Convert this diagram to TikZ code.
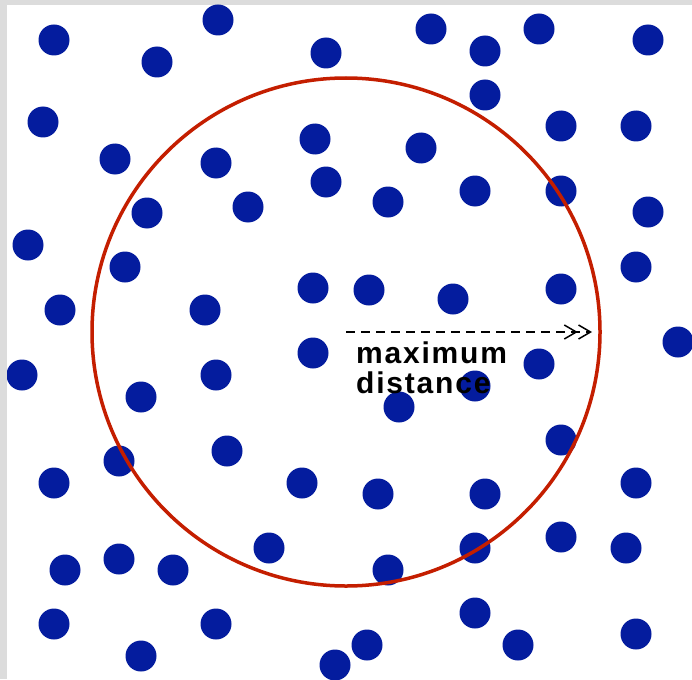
\documentclass[tikz,border=0pt]{standalone}
\usepackage{fontspec}
\newfontfamily\labfont[LetterSpace=6]{Liberation Sans}
\usetikzlibrary{arrows.meta}
\definecolor{dotblue}{RGB}{4,28,158}
\definecolor{ringred}{RGB}{196,30,0}
\definecolor{framegray}{RGB}{220,220,220}
\tikzset{
  dot/.style={circle,fill=dotblue,inner sep=0pt,minimum size=31pt},
  ring/.style={circle,draw=ringred,line width=3.5pt,inner sep=0pt,minimum size=508pt},
  reach/.style={draw=black,line width=1.6pt,dash pattern=on 9pt off 6pt,
    -{Straight Barb[length=12pt,width=14pt,line width=1.5pt] Straight Barb[length=12pt,width=14pt,line width=1.5pt]}},
  label/.style={font=\labfont\bfseries\fontsize{30}{30}\selectfont,align=left,inner sep=0pt,anchor=north west}
}
\begin{document}
\begin{tikzpicture}[x=1pt,y=-1pt]
\useasboundingbox (0,0) rectangle (692,679);
\fill[framegray] (0,0) rectangle (692,679);
\clip (7,5) rectangle (692,679);
\fill[white] (7,5) rectangle (692,679);
\foreach \n/\x/\y in {
 1/54/40, 2/218/20, 3/157/62, 4/326/53, 5/431/29, 6/485/51, 7/539/29, 8/648/40,
 9/485/95, 10/43/122, 11/115/159, 12/216/163, 13/315/139, 14/421/148, 15/561/126, 16/636/126,
 17/326/182, 18/388/202, 19/475/191, 20/561/191, 21/147/213, 22/248/207, 23/648/212, 24/28/245,
 25/125/267, 26/636/267, 27/60/310, 28/205/310, 29/313/288, 30/369/290, 31/453/299, 32/561/289,
 33/313/353, 34/539/364, 35/678/342, 36/22/375, 37/216/375, 38/141/397, 39/475/386, 40/399/407,
 41/561/440, 42/227/451, 43/119/461, 44/54/483, 45/302/483, 46/378/494, 47/485/494, 48/636/483,
 49/269/548, 50/475/548, 51/561/537, 52/626/548, 53/65/570, 54/119/559, 55/173/570, 56/388/570,
 57/54/624, 58/216/624, 59/475/613, 60/141/656, 61/367/645, 62/335/665, 63/518/645, 64/636/634}
  \node[dot] (d\n) at (\x,\y) {};
\node[ring] (range) at (346,332) {};
\coordinate (ctr) at (range.center);
\coordinate (edge) at (592,332);
\draw[reach] (ctr) -- (edge);
\node[label] (lbl) at (356,342) {maximum\\distance};
\end{tikzpicture}
\end{document}
